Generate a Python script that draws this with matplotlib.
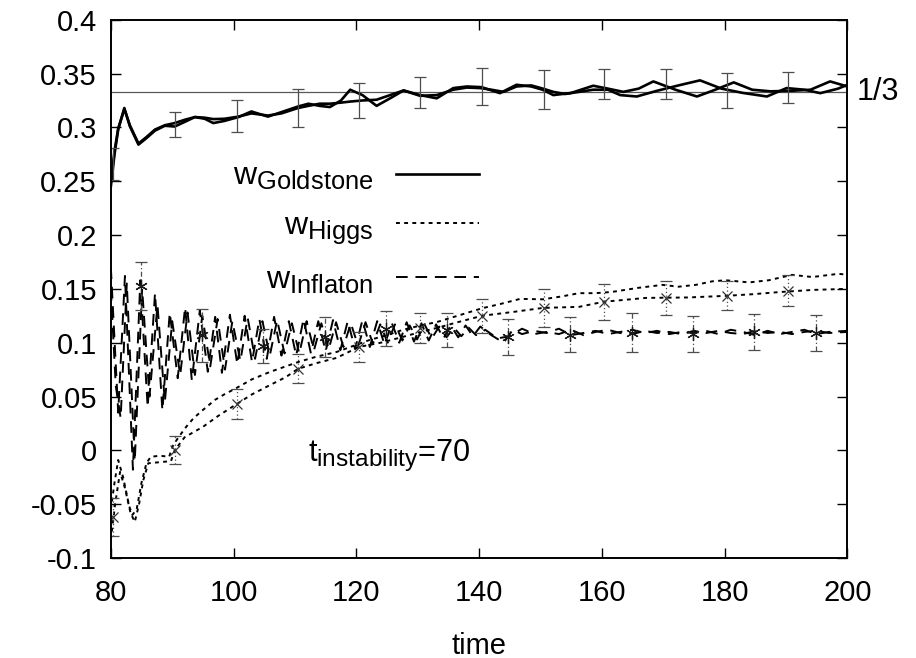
import numpy as np
import matplotlib
matplotlib.use("Agg")
import matplotlib.pyplot as plt
import matplotlib._mathtext as mt

plt.rcParams["font.family"] = ["Liberation Sans", "DejaVu Sans"]
plt.rcParams["mathtext.fontset"] = "custom"
plt.rcParams["mathtext.rm"] = "Liberation Sans"
plt.rcParams["mathtext.it"] = "Liberation Sans"
# gnuplot-like subscripts are only a bit smaller than the base text
mt.SHRINK_FACTOR = 0.8

# two runs of each equation of state
gold1_t = [80.0, 80.6, 81.2, 82.2, 83.1, 84.5, 85.8, 87.2, 88.8, 90.4, 92.0, 93.7, 95.3, 96.7, 98.5,
           100.8, 102.9, 105.6, 107.8, 110.5, 112.2, 114.0, 115.7, 117.5, 119.0, 121.0, 123.3, 125.5,
           127.7, 130.4, 133.1, 135.8, 138.0, 140.4, 143.4, 146.1, 148.5, 150.4, 152.1, 155.0, 158.6,
           161.0, 163.5, 166.0, 168.4, 172.0, 175.5, 178.5, 181.5, 184.5, 187.5, 191.0, 194.0, 197.2, 200.0]
gold1_w = [0.245, 0.275, 0.298, 0.318, 0.301, 0.284, 0.290, 0.297, 0.3015, 0.3008, 0.305, 0.3096, 0.308,
           0.304, 0.306, 0.3096, 0.3148, 0.310, 0.3142, 0.3194, 0.322, 0.320, 0.3189, 0.325, 0.335, 0.330,
           0.320, 0.327, 0.3343, 0.330, 0.327, 0.3365, 0.338, 0.3374, 0.3318, 0.3396, 0.338, 0.3349, 0.330,
           0.332, 0.3387, 0.336, 0.333, 0.336, 0.3427, 0.335, 0.3287, 0.335, 0.3418, 0.335, 0.3335, 0.334,
           0.335, 0.3427, 0.338]
gold2_t = [80.0, 80.6, 81.2, 82.2, 83.1, 84.5, 85.8, 87.2, 88.8, 90.4, 92.0, 93.7, 95.3, 96.7, 98.5,
           100.8, 102.9, 105.6, 107.8, 110.5, 112.2, 114.0, 115.7, 117.5, 119.0, 121.0, 123.3, 125.5,
           127.7, 130.4, 133.1, 135.8, 138.0, 140.2, 142.0, 144.0, 146.1, 148.5, 150.4, 152.1, 154.0,
           156.3, 158.6, 161.0, 163.0, 165.7, 169.0, 172.5, 176.0, 179.5, 183.0, 186.9, 190.1, 193.0,
           195.6, 198.5, 200.0]
gold2_w = [0.25, 0.278, 0.299, 0.317, 0.302, 0.285, 0.291, 0.298, 0.302, 0.304, 0.307, 0.3096, 0.309,
           0.3077, 0.308, 0.310, 0.313, 0.311, 0.313, 0.318, 0.320, 0.322, 0.322, 0.323, 0.324, 0.325,
           0.3257, 0.330, 0.3343, 0.3293, 0.330, 0.335, 0.337, 0.3365, 0.335, 0.333, 0.338, 0.339, 0.336,
           0.333, 0.331, 0.333, 0.335, 0.335, 0.330, 0.3287, 0.334, 0.339, 0.3437, 0.336, 0.332, 0.3287,
           0.3365, 0.335, 0.3318, 0.336, 0.3395]

higgs1_t = [80.0, 80.6, 81.2, 82.0, 83.0, 83.5, 84.2, 85.0, 85.8, 86.5, 88.0, 89.5, 90.1, 91.0, 92.3,
            93.5, 95.0, 97.0, 98.5, 100.5, 103.0, 106.0, 108.0, 110.5, 113.5, 116.8, 119.5, 122.2, 125.0,
            127.6, 130.5, 133.2, 136.5, 140.5, 143.5, 146.7, 150.4, 153.5, 156.3, 159.0, 161.7, 166.0,
            169.9, 172.5, 175.3, 178.0, 180.2, 184.0, 187.2, 191.0, 194.3, 198.6, 200.0]
higgs1_w = [-0.055, -0.03, -0.009, -0.025, -0.052, -0.06, -0.055, -0.03, -0.012, -0.006, -0.005, -0.006,
            0.004, 0.012, 0.022, 0.030, 0.0375, 0.047, 0.052, 0.058, 0.066, 0.073, 0.077, 0.082, 0.087,
            0.0914, 0.097, 0.1026, 0.107, 0.112, 0.116, 0.1193, 0.125, 0.132, 0.136, 0.1407, 0.1403, 0.143,
            0.146, 0.146, 0.1472, 0.151, 0.1537, 0.152, 0.1537, 0.157, 0.158, 0.156, 0.158, 0.163, 0.161,
            0.164, 0.163]
higgs2_t = [80.0, 80.7, 81.5, 82.3, 83.2, 83.9, 84.6, 85.3, 86.1, 88.0, 89.8, 90.4, 92.0, 93.5, 95.0,
            97.5, 100.5, 103.0, 106.0, 108.5, 110.5, 113.5, 116.8, 120.4, 124.0, 127.6, 130.5, 133.2,
            136.5, 140.5, 145.6, 150.4, 156.3, 160.3, 167.2, 174.0, 180.2, 184.5, 188.9, 194.3, 200.0]
higgs2_w = [-0.083, -0.05, -0.02, -0.035, -0.058, -0.0665, -0.05, -0.0275, -0.012, -0.011, -0.01, 0.0,
            0.012, 0.017, 0.0218, 0.032, 0.043, 0.052, 0.0608, 0.068, 0.0757, 0.081, 0.0859, 0.096, 0.1,
            0.1054, 0.11, 0.1138, 0.119, 0.125, 0.1286, 0.1323, 0.1333, 0.138, 0.1416, 0.142, 0.1435,
            0.145, 0.147, 0.149, 0.15]

infl1_t = [80.0, 81.2, 82.3, 83.6, 84.8, 86.0, 87.2, 88.4, 89.6, 90.9, 92.1, 93.2, 94.5, 95.8, 97.0,
           98.1, 99.4, 100.6, 101.8, 103.0, 104.2, 105.4, 106.6, 107.8, 109.0, 110.2, 111.4, 112.6, 113.8,
           115.0, 116.2, 117.4, 118.6, 119.8, 121.0, 122.2, 123.4, 124.6, 125.8, 127.0, 128.2, 129.4,
           130.6, 131.8, 133.0, 134.2, 135.4, 136.6, 137.8, 139.0, 140.2, 142.0, 144.0, 145.5, 147.0,
           149.0, 151.0, 153.0, 155.0, 157.0, 159.0, 161.0, 163.0, 165.0, 167.0, 169.0, 171.0, 173.0,
           175.0, 177.0, 179.0, 181.0, 183.0, 185.0, 187.0, 189.0, 191.0, 193.0, 195.0, 197.0, 200.0]
infl1_w = [0.17, 0.035, 0.162, -0.018, 0.158, 0.04, 0.146, 0.037, 0.128, 0.067, 0.133, 0.065, 0.13, 0.073,
           0.124, 0.072, 0.126, 0.08, 0.125, 0.082, 0.122, 0.085, 0.124, 0.088, 0.12, 0.088, 0.122, 0.09,
           0.12, 0.092, 0.121, 0.093, 0.12, 0.094, 0.121, 0.096, 0.12, 0.098, 0.118, 0.1, 0.119, 0.101,
           0.118, 0.102, 0.117, 0.104, 0.116, 0.105, 0.116, 0.106, 0.115, 0.107, 0.1, 0.112, 0.108, 0.111,
           0.109, 0.113, 0.107, 0.109, 0.111, 0.108, 0.11, 0.112, 0.109, 0.111, 0.108, 0.11, 0.109, 0.111,
           0.108, 0.112, 0.11, 0.107, 0.111, 0.108, 0.11, 0.112, 0.108, 0.11, 0.111]
infl2_t = [80.0, 80.8, 81.6, 82.6, 83.9, 85.1, 86.3, 87.6, 88.8, 90.0, 91.3, 92.5, 93.7, 94.9, 96.2,
           97.4, 98.6, 99.8, 101.1, 102.3, 103.5, 104.7, 105.9, 107.1, 108.3, 109.5, 110.7, 111.9, 113.1,
           114.3, 115.5, 116.7, 117.9, 119.1, 120.3, 121.5, 122.7, 123.9, 125.1, 126.3, 127.5, 128.7,
           129.9, 131.1, 132.3, 133.5, 134.7, 135.9, 137.1, 138.3, 139.5, 141.0, 143.0, 145.0, 147.0,
           149.0, 151.0, 153.0, 155.0, 157.0, 159.0, 161.0, 163.0, 165.0, 167.0, 169.0, 171.0, 173.0,
           175.0, 177.0, 179.0, 181.0, 183.0, 185.0, 187.0, 189.0, 191.0, 193.0, 195.0, 197.0, 200.0]
infl2_w = [0.15, 0.06, 0.03, 0.155, -0.01, 0.15, 0.05, 0.135, 0.045, 0.12, 0.07, 0.128, 0.07, 0.125,
           0.078, 0.122, 0.075, 0.12, 0.083, 0.123, 0.085, 0.12, 0.088, 0.121, 0.09, 0.118, 0.09, 0.12,
           0.093, 0.118, 0.094, 0.119, 0.096, 0.118, 0.097, 0.119, 0.099, 0.117, 0.1, 0.117, 0.102, 0.116,
           0.103, 0.117, 0.104, 0.115, 0.105, 0.114, 0.106, 0.114, 0.107, 0.112, 0.104, 0.106, 0.113,
           0.108, 0.11, 0.108, 0.112, 0.107, 0.11, 0.112, 0.109, 0.108, 0.111, 0.109, 0.11, 0.108, 0.111,
           0.109, 0.111, 0.109, 0.108, 0.111, 0.109, 0.11, 0.108, 0.11, 0.111, 0.109, 0.11]

# averaged points with error bars
gold_t = [80.4, 90.4, 100.5, 110.5, 120.4, 130.4, 140.5, 150.5, 160.4, 170.4, 180.4, 190.4]
gold_w = [0.266, 0.303, 0.311, 0.318, 0.325, 0.332, 0.338, 0.335, 0.340, 0.340, 0.3345, 0.337]
gold_e = [0.015, 0.0116, 0.0149, 0.0172, 0.0163, 0.0144, 0.0172, 0.018, 0.014, 0.014, 0.0163, 0.0144]
higgs_t = [80.4, 90.4, 100.5, 110.5, 120.4, 130.4, 140.5, 150.5, 160.4, 170.4, 180.4, 190.4]
higgs_w = [-0.062, 0.0, 0.043, 0.0757, 0.0961, 0.1138, 0.1249, 0.1323, 0.1379, 0.1416, 0.1435, 0.1482]
higgs_e = [0.018, 0.013, 0.014, 0.0135, 0.014, 0.014, 0.016, 0.0177, 0.017, 0.016, 0.0135, 0.0144]
infl_t = [84.9, 94.9, 104.8, 114.9, 124.8, 134.8, 144.7, 154.8, 164.9, 174.8, 184.8, 194.9]
infl_w = [0.1528, 0.107, 0.097, 0.1055, 0.113, 0.112, 0.1055, 0.1074, 0.1092, 0.108, 0.110, 0.1092]
infl_e = [0.0223, 0.0246, 0.016, 0.0186, 0.016, 0.016, 0.0167, 0.016, 0.018, 0.017, 0.0167, 0.0167]

third = 1.0 / 3.0
xticks = [80, 100, 120, 140, 160, 180, 200]
yticks = np.arange(-0.1, 0.401, 0.05)

fig = plt.figure(figsize=(9.16, 6.58), dpi=100)
ax = fig.add_axes([0.121, 0.152, 0.804, 0.818])

dotted = (0, (2.0, 2.2))
dashed = (0, (6, 4))

ax.axhline(third, color="0.35", lw=0.9)

ax.plot(gold1_t, gold1_w, color="k", lw=1.9, label=r"$w_{\mathrm{Goldstone}}$")
ax.plot(gold2_t, gold2_w, color="k", lw=1.9)
ax.plot(higgs1_t, higgs1_w, color="k", lw=1.4, ls=dotted, label=r"$w_{\mathrm{Higgs}}$")
ax.plot(higgs2_t, higgs2_w, color="k", lw=1.4, ls=dotted)
ax.plot(infl1_t, infl1_w, color="k", lw=1.4, ls=dashed, label=r"$w_{\mathrm{Inflaton}}$")
ax.plot(infl2_t, infl2_w, color="k", lw=1.4, ls=dashed)

eb = ax.errorbar(gold_t, gold_w, yerr=gold_e, fmt="none", ecolor="0.3", elinewidth=0.9,
                 capsize=4.5, capthick=0.9)
eb = ax.errorbar(higgs_t, higgs_w, yerr=higgs_e, fmt="x", color="0.2", ms=7, mew=0.9,
                 ecolor="0.3", elinewidth=0.9, capsize=4.5, capthick=0.9)
eb[2][0].set_linestyle((0, (1, 2)))
eb = ax.errorbar(infl_t, infl_w, yerr=infl_e, fmt="none", ecolor="0.3", elinewidth=0.9,
                 capsize=4.5, capthick=0.9)
eb[2][0].set_linestyle((0, (4, 2, 1, 2)))
ax.plot(infl_t, infl_w, ls="none", marker=(6, 2, 0), ms=9, mew=0.9, color="0.1")

ax.text(201.5, third, "1/3", fontsize=22, va="center", ha="left", clip_on=False)
ax.text(112.1, -0.01, r"$t_{\mathrm{instability}}$=70", fontsize=22, ha="left", va="baseline")

leg = ax.legend(loc="upper right", bbox_to_anchor=(0.53, 0.777), frameon=False, markerfirst=False,
                fontsize=23, handlelength=2.6, handletextpad=0.7, labelspacing=0.6,
                borderpad=0.2)

ax.set_xlim(80, 200)
ax.set_ylim(-0.1, 0.4)
ax.set_xticks(xticks)
ax.set_yticks(yticks)
ax.set_yticklabels(["%g" % round(v, 2) for v in yticks])
ax.tick_params(direction="in", length=7, width=1, top=True, right=True, labelsize=21, pad=10)
ax.tick_params(axis="x", pad=15)
for s in ax.spines.values():
    s.set_linewidth(1.4)
ax.set_xlabel("time", fontsize=21, labelpad=18)

fig.savefig("out.png", dpi=100)
